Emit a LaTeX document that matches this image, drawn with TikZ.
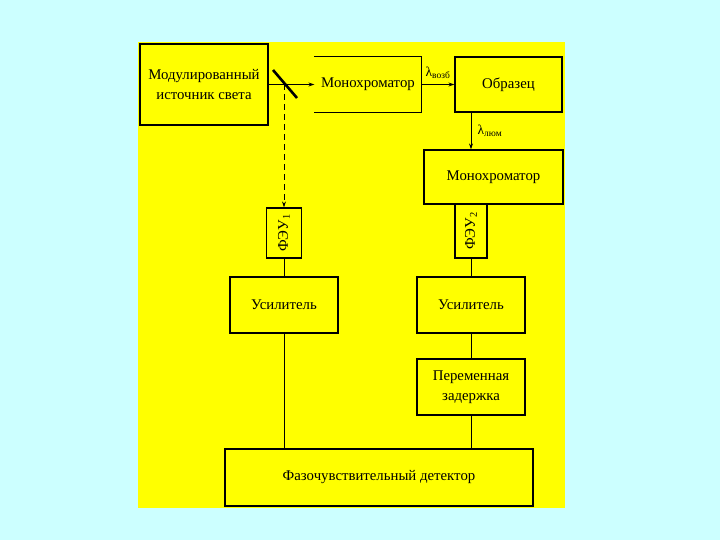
\documentclass[tikz,border=0pt]{standalone}
\usepackage{fontspec}
\setmainfont{Liberation Serif}
\usetikzlibrary{arrows.meta}
\definecolor{bgc}{RGB}{204,255,255}
\definecolor{panel}{RGB}{255,255,0}
\begin{document}
\begin{tikzpicture}[x=1pt,y=-1pt,
  box/.style={draw, line width=1.3pt, fill=panel, inner sep=0pt, align=center,
    font=\fontsize{14.8}{19.5}\selectfont},
  lbl/.style={font=\fontsize{14.8}{19.5}\selectfont, inner sep=0pt},
  wire/.style={line width=0.8pt},
  arr/.style={wire, -{Stealth[length=6pt,width=4pt]}}]
\useasboundingbox (0,0) rectangle (720,540);
\fill[bgc] (0,0) rectangle (720,540);
\fill[panel] (138,42) rectangle (565,508);

\node[box, minimum width=128, minimum height=81] (src) at (204,84.5) {Модулированный\\источник света};
\node[box, draw=none, minimum width=106, minimum height=55] (mono1) at (368,84.5) {Монохроматор};
\draw[line width=1.3pt] (mono1.north west) -- (mono1.north east) -- (mono1.south east) -- (mono1.south west);
\node[box, minimum width=107, minimum height=55] (sample) at (508.5,84.5) {Образец};
\node[box, minimum width=139, minimum height=54] (mono2) at (493.5,177) {Монохроматор};
\node[box, minimum width=35, minimum height=50] (pmt1) at (284,233) {};
\node[lbl, rotate=90] at (pmt1.center) {ФЭУ\textsubscript{1}};
\node[box, minimum width=32, minimum height=54] (pmt2) at (471,231) {};
\node[lbl, rotate=90] at (pmt2.center) {ФЭУ\textsubscript{2}};
\node[box, minimum width=108, minimum height=56] (amp1) at (284,305) {Усилитель};
\node[box, minimum width=108, minimum height=56] (amp2) at (471,305) {Усилитель};
\node[box, minimum width=108, minimum height=56] (delay) at (471,387) {Переменная\\задержка};
\node[box, minimum width=308, minimum height=57] (psd) at (379,477.5) {Фазочувствительный детектор};

% beam splitter
\coordinate (bs1) at (273,70);
\coordinate (bs2) at (297,98);
\coordinate (split) at (284,84.5);
\draw[arr] (src.east) -- (mono1.west);
\draw[line width=2.6pt] (bs1) -- (bs2);
\draw[arr, dash pattern=on 6pt off 4pt] (split) -- (pmt1.north);

\draw[arr] (mono1.east) -- (sample.west);
\node[lbl, font=\fontsize{13.5}{16}\selectfont] at (438,73) {λ\textsubscript{возб}};
\draw[arr] (sample.south -| pmt2.north) -- (mono2.north -| pmt2.north);
\node[lbl, font=\fontsize{13.5}{16}\selectfont] at (490,131) {λ\textsubscript{люм}};

\draw[wire] (pmt1.south) -- (amp1.north);
\draw[wire] (pmt2.south) -- (amp2.north);
\draw[wire] (amp1.south) -- (psd.north -| amp1.south);
\draw[wire] (amp2.south) -- (delay.north);
\draw[wire] (delay.south) -- (psd.north -| delay.south);
\end{tikzpicture}
\end{document}
